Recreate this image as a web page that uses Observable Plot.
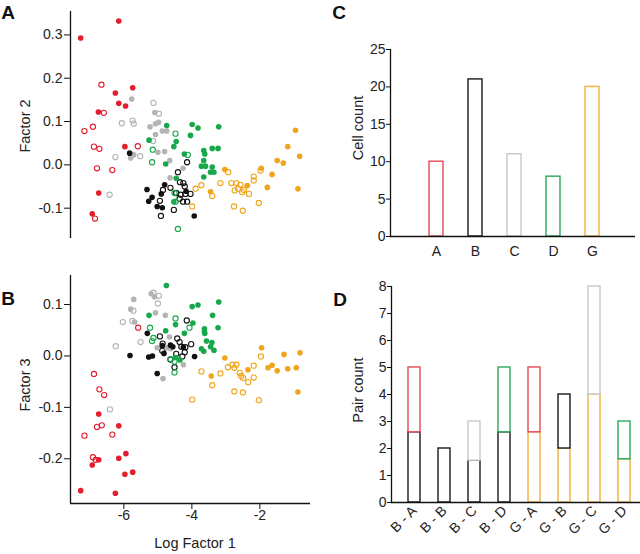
<!DOCTYPE html>
<html><head><meta charset="utf-8">
<script src="https://cdn.jsdelivr.net/npm/d3@7"></script>
<script src="https://cdn.jsdelivr.net/npm/@observablehq/plot@0.6"></script>
<style>
body{margin:0;background:#fff;font-family:"Liberation Sans",Arial,sans-serif;}
#fig{position:relative;width:640px;height:554px;overflow:hidden;background:#fff;}
.panel{position:absolute;}
.letter{position:absolute;font-weight:bold;font-size:19px;color:#111;line-height:1;}
.atitle{position:absolute;white-space:nowrap;font-size:14.5px;color:#222;line-height:1;}
</style></head><body><div id="fig"></div>
<script>
// ---------- groups & colours ----------
const groups = ["A", "B", "C", "D", "G"];
const dotColors = ["#e31e2d", "#111111", "#b4b4b4", "#16a84a", "#f0a51c"];
const barColors = ["#e44a54", "#1a1a1a", "#c8c8c8", "#2aa85a", "#f3b13c"];

// ---------- Panel A: Log Factor 1 vs Factor 2 ----------
const a_A_filled = [[-7.27,0.293],[-6.15,0.332],[-6.25,0.166],[-5.74,0.178],[-6.15,0.142],[-5.95,0.136],[-6.75,0.122],[-5.97,0.042],[-6.74,-0.065],[-6.93,-0.113]];
const a_A_open = [[-6.66,0.185],[-6.59,0.12],[-6.91,0.088],[-7.16,0.078],[-6.88,0.042],[-6.72,0.037],[-6.79,-0.008],[-6.34,-0.012],[-5.59,0.043],[-6.85,-0.124]];
const a_C_filled = [[-5.77,0.152],[-5.09,0.121],[-5.23,0.088],[-5.07,0.095],[-4.98,0.098],[-5.07,0.070],[-4.87,0.078],[-4.74,0.078],[-5.80,0.016],[-5.71,0.023],[-5.0,0.029],[-4.80,0.031],[-4.65,0.010],[-4.26,-0.008],[-4.64,-0.030]];
const a_C_open = [[-5.13,0.143],[-4.97,0.118],[-6.06,0.096],[-5.74,0.102],[-5.71,0.095],[-6.25,0.018],[-5.52,0.020],[-6.42,-0.069],[-5.14,0.055]];
const a_B_filled = [[-5.83,0.027],[-5.32,-0.057],[-5.17,-0.075],[-5.27,-0.084],[-4.90,-0.067],[-4.80,-0.046],[-5.02,-0.096],[-4.87,-0.099],[-3.93,-0.118],[-4.17,-0.061]];
const a_B_open = [[-4.14,0.006],[-4.41,-0.017],[-4.35,-0.040],[-4.25,-0.042],[-4.21,-0.050],[-4.63,-0.053],[-4.85,-0.058],[-4.94,-0.083],[-4.46,-0.065],[-4.33,-0.069],[-4.19,-0.067],[-4.04,-0.067],[-4.36,-0.078],[-4.14,-0.085],[-4.53,-0.104],[-4.91,-0.118],[-4.26,-0.085]];
const a_D_filled = [[-4.74,0.091],[-3.99,0.093],[-3.82,0.085],[-3.21,0.088],[-4.04,0.068],[-4.53,0.042],[-4.46,0.054],[-5.26,0.057],[-4.77,0.002],[-4.22,0.025],[-4.46,-0.031],[-3.65,0.033],[-3.62,0.025],[-3.65,0.010],[-3.40,0.038],[-3.23,0.038],[-3.72,-0.003],[-3.60,-0.003],[-3.40,-0.005],[-3.45,-0.017],[-3.35,-0.017],[-3.65,-0.028],[-4.53,-0.085]];
const a_D_open = [[-4.48,0.072],[-5.15,0.035],[-5.17,0.006],[-4.12,0.023],[-4.41,-0.148],[-4.51,-0.065],[-4.48,-0.085]];
const a_G_filled = [[-0.95,0.080],[-1.18,0.042],[-0.83,0.020],[-1.49,0.010],[-1.31,0.004],[-1.96,-0.008],[-1.64,-0.022],[-1.78,-0.052],[-0.88,-0.055],[-2.37,-0.048],[-3.03,-0.011],[-3.45,-0.062]];
const a_G_open = [[-2.93,-0.017],[-3.89,-0.055],[-3.72,-0.047],[-3.40,-0.072],[-3.16,-0.042],[-2.84,-0.042],[-2.69,-0.042],[-2.57,-0.046],[-2.74,-0.059],[-2.64,-0.055],[-2.52,-0.063],[-2.47,-0.058],[-2.32,-0.067],[-2.18,-0.027],[-2.18,-0.036],[-1.98,-0.013],[-2.76,-0.096],[-2.50,-0.106],[-2.03,-0.088],[-3.99,-0.096]];

// ---------- Panel B: Log Factor 1 vs Factor 3 ----------
const b_A_filled = [[-6.74,-0.113],[-6.15,-0.136],[-6.74,-0.202],[-6.93,-0.212],[-6.15,-0.199],[-5.94,-0.190],[-5.97,-0.230],[-5.74,-0.226],[-7.27,-0.262],[-6.25,-0.267]];
const b_A_open = [[-6.88,-0.035],[-6.72,-0.065],[-6.58,-0.076],[-6.79,-0.138],[-6.65,-0.135],[-7.16,-0.155],[-6.34,-0.153],[-6.91,-0.197],[-6.83,-0.202],[-5.58,0.055]];
const b_C_filled = [[-5.71,0.110],[-5.80,0.091],[-5.20,0.121],[-5.10,0.115],[-5.68,0.066],[-5.07,0.084],[-4.78,0.079],[-4.66,0.037],[-5.02,0.016],[-4.74,0.016],[-4.85,-0.044],[-4.25,-0.017],[-4.63,0.014]];
const b_C_open = [[-5.13,0.123],[-4.97,0.117],[-5.0,0.102],[-5.72,0.088],[-5.75,0.068],[-6.03,0.066],[-5.51,0.027],[-6.24,0.019],[-6.41,-0.104]];
const b_B_filled = [[-5.82,0.001],[-5.31,0.044],[-5.27,-0.002],[-5.16,0.0],[-4.82,0.005],[-4.63,0.021],[-4.56,0.018],[-5.02,-0.034],[-3.92,-0.001],[-4.87,0.020],[-4.25,0.017]];
const b_B_open = [[-4.94,0.038],[-4.86,0.024],[-4.43,0.034],[-4.36,0.027],[-4.15,0.069],[-4.31,0.018],[-4.02,0.023],[-4.87,0.010],[-4.63,-0.007],[-4.51,-0.022],[-4.19,0.017],[-4.21,0.007],[-4.28,-0.001],[-4.46,0.004]];
const b_D_filled = [[-4.75,0.137],[-3.99,0.096],[-3.82,0.099],[-3.21,0.105],[-3.39,0.079],[-3.23,0.055],[-3.63,0.053],[-3.63,0.047],[-3.62,0.044],[-3.97,0.064],[-3.57,0.029],[-3.41,0.026],[-3.45,0.018],[-3.35,0.011],[-3.72,0.014],[-3.65,0.009],[-5.26,0.079],[-4.77,0.049],[-4.48,0.061],[-4.22,0.044],[-4.48,-0.003],[-4.35,-0.008]];
const b_D_open = [[-4.48,0.073],[-5.23,0.055],[-5.13,0.035],[-5.17,0.029],[-4.07,0.055],[-4.63,-0.006],[-4.51,-0.011],[-4.51,-0.032]];
const b_G_filled = [[-1.95,0.016],[-1.29,0.003],[-0.82,0.006],[-3.03,-0.004],[-1.76,-0.023],[-1.64,-0.018],[-1.49,-0.029],[-1.18,-0.025],[-0.93,-0.023],[-2.35,-0.027],[-3.43,-0.039],[-0.88,-0.070]];
const b_G_open = [[-1.97,-0.001],[-2.94,-0.022],[-2.81,-0.017],[-2.69,-0.017],[-2.75,-0.023],[-2.59,-0.033],[-2.55,-0.039],[-2.49,-0.043],[-2.34,-0.051],[-2.18,-0.019],[-2.18,-0.042],[-3.16,-0.034],[-3.72,-0.030],[-3.40,-0.057],[-3.99,-0.085],[-2.75,-0.069],[-2.50,-0.071],[-2.03,-0.086]];

// ---------- Panel C: cell counts ----------
const cellCategories = ["A", "B", "C", "D", "G"];
const cellCounts = [10, 21, 11, 8, 20];

// ---------- Panel D: pair counts (stacked) ----------
const pairLabels = ["B - A", "B - B", "B - C", "B - D", "G - A", "G - B", "G - C", "G - D"];
const pairLowerGroup = ["B", "B", "B", "B", "G", "G", "G", "G"];
const pairLowerValue = [2.6, 2, 1.55, 2.6, 2.6, 2, 4, 1.6];
const pairUpperGroup = ["A", "B", "C", "D", "A", "B", "C", "D"];
const pairUpperValue = [2.4, 0, 1.45, 2.4, 2.4, 2, 4, 1.4];

// ---------- helpers ----------
const fig = document.getElementById("fig");
const FONT = '"Liberation Sans", Arial, sans-serif';
const baseStyle = {background: "transparent", fontFamily: FONT, fontSize: "14px", color: "#222", overflow: "visible"};
function place(node, left, top) {
  const d = document.createElement("div");
  d.className = "panel"; d.style.left = left + "px"; d.style.top = top + "px";
  d.appendChild(node); fig.appendChild(d);
}
function htmlText(cls, text, cx, cy, rot) {
  const d = document.createElement("div");
  d.className = cls; d.textContent = text;
  d.style.left = cx + "px"; d.style.top = cy + "px";
  d.style.transform = "translate(-50%,-50%)" + (rot ? " rotate(" + rot + "deg)" : "");
  fig.appendChild(d);
}
function rows(arr, group, filled) { return arr.map(([x, y]) => ({x, y, group, filled})); }

const xDomain = [-7.57, -0.51];

const aFilled = [].concat(rows(a_C_filled,"C"), rows(a_A_filled,"A"), rows(a_B_filled,"B"), rows(a_D_filled,"D"), rows(a_G_filled,"G"));
const aOpen = [].concat(rows(a_C_open,"C"), rows(a_A_open,"A"), rows(a_B_open,"B"), rows(a_D_open,"D"), rows(a_G_open,"G"));
const bFilled = [].concat(rows(b_C_filled,"C"), rows(b_A_filled,"A"), rows(b_B_filled,"B"), rows(b_D_filled,"D"), rows(b_G_filled,"G"));
const bOpen = [].concat(rows(b_C_open,"C"), rows(b_A_open,"A"), rows(b_B_open,"B"), rows(b_D_open,"D"), rows(b_G_open,"G"));

function scatterMarks(openRows, filledRows) {
  return [
    Plot.dot(openRows, {x: "x", y: "y", stroke: "group", fill: "none", r: 2.6, strokeWidth: 1.1}),
    Plot.dot(filledRows, {x: "x", y: "y", fill: "group", r: 2.8})
  ];
}
const fmt1 = d => d.toFixed(1);

// Panel A
place(Plot.plot({
  width: 320, height: 245, marginLeft: 70, marginRight: 10, marginTop: 11, marginBottom: 7,
  style: baseStyle,
  x: {domain: xDomain, axis: null},
  y: {domain: [-0.170, 0.354]},
  color: {domain: groups, range: dotColors},
  marks: [
    Plot.axisY({ticks: [-0.1, 0, 0.1, 0.2, 0.3], tickFormat: fmt1, tickSize: 6, tickPadding: 2, label: null, stroke: "#111"}),
    Plot.ruleX([xDomain[0]], {stroke: "#111", strokeWidth: 1.3}),
    ...scatterMarks(aOpen, aFilled)
  ]
}), 0, 0);

// Panel B
place(Plot.plot({
  width: 320, height: 304, marginLeft: 70, marginRight: 10, marginTop: 25, marginBottom: 51,
  style: baseStyle,
  x: {domain: xDomain},
  y: {domain: [-0.287, 0.1565]},
  color: {domain: groups, range: dotColors},
  marks: [
    Plot.axisY({ticks: [-0.2, -0.1, 0, 0.1], tickFormat: fmt1, tickSize: 6, tickPadding: 2, label: null, stroke: "#111"}),
    Plot.axisX({ticks: [-6, -4, -2], tickFormat: d => String(d), tickSize: 6, tickPadding: 1, label: null, stroke: "#111"}),
    Plot.ruleX([xDomain[0]], {stroke: "#111", strokeWidth: 1.3}),
    Plot.ruleY([-0.287], {stroke: "#111", strokeWidth: 1.3}),
    ...scatterMarks(bOpen, bFilled)
  ]
}), 0, 250);

// Panel C
const cellRows = cellCategories.map((c, i) => ({cat: c, count: cellCounts[i]}));
place(Plot.plot({
  width: 320, height: 262, marginLeft: 70, marginRight: 5, marginTop: 49, marginBottom: 26,
  style: baseStyle,
  x: {type: "band", domain: cellCategories, range: [86.6, 301.4], paddingInner: 0.63, paddingOuter: 0.5},
  y: {domain: [0, 25]},
  color: {domain: groups, range: barColors},
  marks: [
    Plot.axisY({ticks: [0, 5, 10, 15, 20, 25], tickSize: 4, tickPadding: 1, label: null, stroke: "#111"}),
    Plot.axisX({tickSize: 0, tickPadding: 10, label: null}),
    Plot.barY(cellRows, {x: "cat", y: "count", stroke: "cat", fill: "white", strokeWidth: 1.4}),
    Plot.frame({anchor: "left", stroke: "#111", strokeWidth: 1.3}),
    Plot.ruleY([0], {stroke: "#111", strokeWidth: 1.3})
  ]
}), 320, 0);

// Panel D
const pairRows = [];
pairLabels.forEach((p, i) => {
  pairRows.push({pair: p, group: pairLowerGroup[i], value: pairLowerValue[i]});
  if (pairUpperValue[i] > 0) pairRows.push({pair: p, group: pairUpperGroup[i], value: pairUpperValue[i]});
});
place(Plot.plot({
  width: 320, height: 294, marginLeft: 71, marginRight: 0, marginTop: 26, marginBottom: 52,
  style: baseStyle,
  x: {type: "band", domain: pairLabels, range: [76.8, 322.3], paddingInner: 0.585, paddingOuter: 0.3},
  y: {domain: [0, 8]},
  color: {domain: groups, range: barColors},
  marks: [
    Plot.axisY({ticks: [0, 1, 2, 3, 4, 5, 6, 7, 8], tickSize: 4, tickPadding: 1, label: null, stroke: "#111"}),
    Plot.axisX({tickSize: 0, tickPadding: 6, tickRotate: -45, label: null}),
    Plot.barY(pairRows, {x: "pair", y: "value", stroke: "group", fill: "white", strokeWidth: 1.4}),
    Plot.frame({anchor: "left", stroke: "#111", strokeWidth: 1.3}),
    Plot.ruleY([0], {stroke: "#111", strokeWidth: 1.3})
  ]
}), 320, 260);

// titles and panel letters
htmlText("atitle", "Factor 2", 25, 126, -90);
htmlText("atitle", "Factor 3", 25, 385, -90);
htmlText("atitle", "Log Factor 1", 195, 543, 0);
htmlText("atitle", "Cell count", 358, 128, -90);
htmlText("atitle", "Pair count", 358, 390, -90);
htmlText("letter", "A", 8, 12, 0);
htmlText("letter", "B", 8, 298, 0);
htmlText("letter", "C", 339, 12, 0);
htmlText("letter", "D", 340, 299, 0);
</script>
</body></html>
